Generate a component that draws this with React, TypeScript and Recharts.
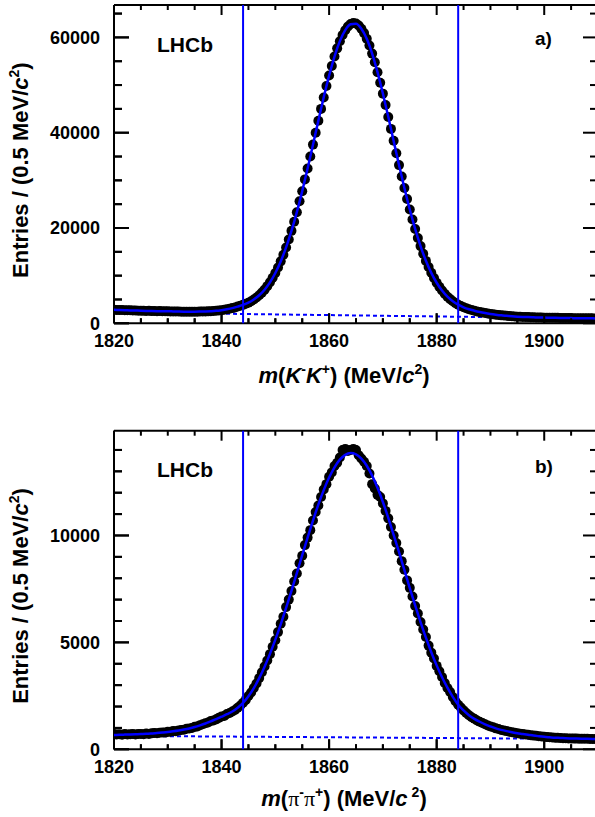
import React from 'react';
import {
    ComposedChart,
    Line,
    XAxis,
    YAxis,
    ReferenceLine,
    Label,
} from 'recharts';

// Two-panel LHCb D0 mass fit: a) K-K+ and b) pi-pi+.
// Black dots = data (0.5 MeV bins), solid blue = total fit,
// dashed blue = background, vertical lines = signal window.

const BLUE = '#0000ff';
const FONT = '"Liberation Sans", Arial, Helvetica, sans-serif';

const MASS_MIN = 1820;
const MASS_MAX = 1910;
const BIN = 0.5;
const massTicks = [
    1820, 1825, 1830, 1835, 1840, 1845, 1850, 1855, 1860, 1865, 1870, 1875,
    1880, 1885, 1890, 1895, 1900, 1905, 1910,
];
const massLabels = [1820, 1840, 1860, 1880, 1900];
const signalWindow = [1844, 1884];

// ---- panel a) K-K+ ----
const kkCounts = [
    2850, 2790, 2770, 2800, 2740, 2720, 2730, 2690, 2680, 2650,
    2660, 2610, 2600, 2620, 2560, 2570, 2540, 2560, 2520, 2530,
    2510, 2500, 2480, 2470, 2460, 2440, 2450, 2420, 2430, 2440,
    2420, 2450, 2460, 2470, 2500, 2510, 2550, 2570, 2620, 2680,
    2760, 2840, 2950, 3050, 3190, 3330, 3510, 3680, 3870, 4090,
    4330, 4640, 5000, 5420, 5890, 6440, 7060, 7800, 8600, 9550,
    10560, 11700, 13000, 14400, 15900, 17600, 19400, 21300, 23300, 25600,
    27700, 30200, 32500, 35000, 37500, 40000, 42500, 45000, 47400, 49800,
    52000, 54000, 56000, 57700, 59200, 60500, 61500, 62300, 62800, 63000,
    62900, 62500, 61800, 60900, 59700, 58300, 56600, 54800, 52700, 50500,
    48200, 45800, 43300, 40800, 38300, 35700, 33200, 30800, 28400, 26100,
    23900, 21800, 19800, 17900, 16200, 14600, 13100, 11800, 10600, 9500,
    8500, 7650, 6870, 6200, 5580, 5080, 4630, 4240, 3900, 3610,
    3360, 3150, 2960, 2790, 2650, 2500, 2380, 2260, 2150, 2050,
    1960, 1880, 1800, 1730, 1670, 1620, 1570, 1510, 1470, 1430,
    1400, 1370, 1340, 1320, 1300, 1280, 1260, 1240, 1220, 1210,
    1190, 1180, 1170, 1160, 1150, 1140, 1130, 1120, 1110, 1100,
    1090, 1085, 1080, 1070, 1060, 1055, 1050, 1040, 1035, 1025,
    1020,
];
// total fit, 1 MeV steps from 1820
const kkFit = [
    2820, 2780, 2745, 2710, 2680, 2640, 2605, 2570, 2550, 2530,
    2525, 2490, 2457, 2433, 2428, 2433, 2457, 2490, 2540, 2616,
    2761, 2947, 3182, 3508, 3863, 4329, 4995, 5880, 7056, 8591,
    10557, 12982, 15918, 19373, 23329, 27744, 32500, 37475, 42531, 47436,
    51982, 55987, 59223, 61528, 62754, 62860, 61815, 59701, 56606, 52712,
    48218, 43343, 38269, 33234, 28390, 23876, 19801, 16207, 13142, 10588,
    8513, 6869, 5584, 4630, 3906, 3361, 2957, 2647, 2378, 2153,
    1964, 1804, 1666, 1566, 1471, 1397, 1342, 1298, 1258, 1224,
    1194, 1170, 1146, 1126, 1107, 1092, 1078, 1063, 1049, 1034, 1020,
];
const kkBackground = [2300, 1000]; // at MASS_MIN, MASS_MAX
const kkYTicks = [
    0, 5000, 10000, 15000, 20000, 25000, 30000, 35000, 40000, 45000, 50000,
    55000, 60000, 65000,
];
const kkYLabels = [0, 20000, 40000, 60000];

// ---- panel b) pi-pi+ ----
const pipiCounts = [
    720, 690, 700, 680, 710, 690, 700, 720, 695, 715,
    720, 705, 735, 720, 745, 760, 750, 775, 790, 780,
    815, 820, 850, 840, 885, 900, 920, 960, 975, 1000,
    1050, 1070, 1130, 1170, 1220, 1250, 1320, 1350, 1400, 1470,
    1530, 1560, 1650, 1700, 1770, 1840, 1940, 2050, 2180, 2310,
    2490, 2660, 2870, 3080, 3330, 3600, 3870, 4150, 4450, 4800,
    5100, 5480, 5870, 6200, 6650, 7000, 7400, 7850, 8220, 8700,
    9050, 9550, 9900, 10250, 10700, 11100, 11400, 11800, 12150, 12400,
    12750, 12950, 13250, 13400, 13650, 14000, 14050, 13950, 14000, 14050,
    14000, 13750, 13600, 13450, 13250, 12900, 12400, 12200, 11900, 11800,
    11500, 11150, 10800, 10400, 10000, 9650, 9250, 8800, 8400, 7900,
    7550, 7150, 6700, 6350, 5950, 5600, 5250, 4850, 4520, 4250,
    3900, 3650, 3380, 3100, 2870, 2680, 2450, 2250, 2080, 1950,
    1820, 1700, 1590, 1500, 1430, 1350, 1290, 1230, 1170, 1110,
    1070, 1030, 980, 950, 905, 880, 850, 820, 800, 770,
    750, 730, 720, 690, 680, 660, 640, 630, 610, 600,
    585, 570, 560, 555, 540, 535, 530, 520, 515, 510,
    505, 500, 500, 495, 495, 490, 490, 485, 485, 480,
    480,
];
const pipiFit = [
    670, 678, 687, 695, 704, 715, 725, 741, 759, 782,
    808, 842, 880, 924, 976, 1041, 1120, 1208, 1310, 1410,
    1524, 1640, 1770, 1945, 2169, 2481, 2863, 3326, 3863, 4464,
    5126, 5843, 6609, 7413, 8242, 9081, 9895, 10693, 11444, 12120,
    12708, 13189, 13547, 13771, 13857, 13797, 13596, 13261, 12800, 12229,
    11566, 10825, 10029, 9217, 8376, 7538, 6727, 5951, 5220, 4542,
    3925, 3373, 2884, 2455, 2088, 1818, 1595, 1425, 1289, 1166,
    1068, 978, 908, 849, 798, 751, 717, 680, 641, 611,
    584, 563, 543, 530, 515, 508, 502, 495, 488, 485, 480,
];
const pipiBackground = [630, 480];
const pipiYTicks = [
    0, 1000, 2000, 3000, 4000, 5000, 6000, 7000, 8000, 9000, 10000, 11000,
    12000, 13000, 14000,
];
const pipiYLabels = [0, 5000, 10000];

const toPoints = (start: number, step: number, values: number[]) =>
    values.map((v, i) => ({ m: start + i * step, v }));

const CHART_W = 600;
const PLOT_LEFT = 114;
const PLOT_RIGHT = 598;
const AXIS_STROKE = { stroke: '#000', strokeWidth: 2 };

// inward tick marks of the ROOT-style frame (majors long, minors short,
// on all four sides), placed with the same linear mapping the axes use;
// drawn as filled rects so they do not depend on stroke props
function FrameTicks(props: {
    plotTop: number;
    plotBottom: number;
    yMax: number;
    yTicks: number[];
    yLabels: number[];
}) {
    const { plotTop, plotBottom, yMax, yTicks, yLabels } = props;
    const xOf = (m: number) =>
        PLOT_LEFT + ((m - MASS_MIN) / (MASS_MAX - MASS_MIN)) * (PLOT_RIGHT - PLOT_LEFT);
    const yOf = (v: number) => plotBottom - (v / yMax) * (plotBottom - plotTop);
    return (
        <g>
            {massTicks.map((m) => {
                const len = massLabels.includes(m) ? 10 : 5;
                const x = xOf(m);
                return (
                    <g key={`x${m}`}>
                        <rect x={x - 1} y={plotBottom - len} width={2} height={len} fill="#000" />
                        <rect x={x - 1} y={plotTop} width={2} height={len} fill="#000" />
                    </g>
                );
            })}
            {yTicks.map((v) => {
                const len = yLabels.includes(v) ? 15 : 8;
                const y = yOf(v);
                return (
                    <g key={`y${v}`}>
                        <rect x={PLOT_LEFT} y={y - 1} width={len} height={2} fill="#000" />
                        <rect x={PLOT_RIGHT - len} y={y - 1} width={len} height={2} fill="#000" />
                    </g>
                );
            })}
        </g>
    );
}

function BottomTick(props: any) {
    const { x, y, payload } = props;
    const major = massLabels.includes(payload.value);
    return (
        <g>
            <path d={`M${x},${y}V${y - (major ? 10 : 5)}`} stroke="#000" strokeWidth={2} fill="none" />
            {major && (
                <text x={x} y={y + 24} textAnchor="middle" fontSize={18} fontWeight="bold" fontFamily={FONT} fill="#000">
                    {payload.value}
                </text>
            )}
        </g>
    );
}

function LeftTick(props: any) {
    const { x, y, payload, labels } = props;
    const major = labels.includes(payload.value);
    return (
        <g>
            <path d={`M${x},${y}H${x + (major ? 15 : 8)}`} stroke="#000" strokeWidth={2} fill="none" />
            {major && (
                <text x={x - 14} y={y} dy="0.36em" textAnchor="end" fontSize={18} fontWeight="bold" fontFamily={FONT} fill="#000">
                    {payload.value}
                </text>
            )}
        </g>
    );
}

function KKTitle() {
    return (
        <>
            <tspan fontStyle="italic">m</tspan>
            <tspan>(</tspan>
            <tspan fontStyle="italic">K</tspan>
            <tspan fontSize={14} dy={-9}>-</tspan>
            <tspan fontStyle="italic" dy={9}>K</tspan>
            <tspan fontSize={14} dy={-9}>+</tspan>
            <tspan dy={9}>) (MeV/</tspan>
            <tspan fontStyle="italic">c</tspan>
            <tspan fontSize={14} dy={-9}>2</tspan>
            <tspan dy={9}>)</tspan>
        </>
    );
}

function PiPiTitle() {
    const pi = { fontFamily: '"Liberation Serif", "Times New Roman", serif', fontWeight: 'normal' as const };
    return (
        <>
            <tspan fontStyle="italic">m</tspan>
            <tspan>(</tspan>
            <tspan {...pi}>π</tspan>
            <tspan fontSize={14} dy={-9}>-</tspan>
            <tspan {...pi} dy={9}>π</tspan>
            <tspan fontSize={14} dy={-9}>+</tspan>
            <tspan dy={9}>) (MeV/</tspan>
            <tspan fontStyle="italic">c</tspan>
            <tspan fontSize={14} dx={4} dy={-9}>2</tspan>
            <tspan dy={9}>)</tspan>
        </>
    );
}

interface PanelProps {
    top: number;
    height: number;
    plotTop: number;
    plotBottom: number;
    counts: number[];
    fit: number[];
    background: number[];
    yMax: number;
    yTicks: number[];
    yLabels: number[];
    title: React.ReactNode;
    titleDy: number;
    tag: string;
    tagY: number;
    lhcbY: number;
}

function Panel(p: PanelProps) {
    const dataPts = toPoints(MASS_MIN, BIN, p.counts);
    const fitPts = toPoints(MASS_MIN, 1, p.fit);
    const bgPts = [
        { m: MASS_MIN, v: p.background[0] },
        { m: MASS_MAX, v: p.background[1] },
    ];
    const xAxisH = p.height - p.plotBottom;
    const plotH = p.plotBottom - p.plotTop;

    return (
        <div style={{ position: 'absolute', left: 0, top: p.top, width: CHART_W, height: p.height }}>
            <ComposedChart
                width={CHART_W}
                height={p.height}
                margin={{ top: p.plotTop - 1, right: 1, bottom: 0, left: 0 }}
            >
                <XAxis
                    xAxisId={0}
                    type="number"
                    dataKey="m"
                    domain={[MASS_MIN, MASS_MAX]}
                    ticks={massTicks}
                    interval={0}
                    allowDataOverflow
                    height={xAxisH}
                    tickSize={0}
                    tickMargin={0}
                    tickLine={false}
                    axisLine={AXIS_STROKE}
                    tick={(t: any) => <BottomTick {...t} />}
                >
                    <Label
                        content={() => (
                            <text
                                x={PLOT_LEFT + 230}
                                y={p.plotBottom + p.titleDy}
                                textAnchor="middle"
                                fontSize={22}
                                fontWeight="bold"
                                fontFamily={FONT}
                                fill="#000"
                            >
                                {p.title}
                            </text>
                        )}
                    />
                </XAxis>
                <XAxis
                    xAxisId="top"
                    orientation="top"
                    type="number"
                    dataKey="m"
                    domain={[MASS_MIN, MASS_MAX]}
                    allowDataOverflow
                    height={1}
                    tick={false}
                    tickLine={false}
                    axisLine={AXIS_STROKE}
                />
                <YAxis
                    yAxisId={0}
                    type="number"
                    dataKey="v"
                    domain={[0, p.yMax]}
                    ticks={p.yTicks}
                    interval={0}
                    allowDataOverflow
                    width={PLOT_LEFT}
                    tickSize={0}
                    tickMargin={0}
                    tickLine={false}
                    axisLine={AXIS_STROKE}
                    tick={(t: any) => <LeftTick {...t} labels={p.yLabels} />}
                >
                    <Label
                        content={() => {
                            const cx = 28;
                            const cy = p.plotTop + plotH / 2 + 6;
                            return (
                                <g>
                                    <text
                                        x={cx}
                                        y={cy}
                                        transform={`rotate(-90, ${cx}, ${cy})`}
                                        textAnchor="middle"
                                        fontSize={22}
                                        fontWeight="bold"
                                        fontFamily={FONT}
                                        fill="#000"
                                    >
                                        <tspan>Entries / (0.5 MeV/</tspan>
                                        <tspan fontStyle="italic">c</tspan>
                                        <tspan fontSize={14} dy={-9}>2</tspan>
                                        <tspan dy={9}>)</tspan>
                                    </text>
                                    <FrameTicks
                                        plotTop={p.plotTop}
                                        plotBottom={p.plotBottom}
                                        yMax={p.yMax}
                                        yTicks={p.yTicks}
                                        yLabels={p.yLabels}
                                    />
                                    <text x={157} y={p.lhcbY} fontSize={21} fontWeight="bold" fontFamily={FONT} fill="#000">
                                        LHCb
                                    </text>
                                    <text x={535} y={p.tagY} fontSize={19} fontWeight="bold" fontFamily={FONT} fill="#000">
                                        {p.tag}
                                    </text>
                                </g>
                            );
                        }}
                    />
                </YAxis>
                <YAxis
                    yAxisId="right"
                    orientation="right"
                    type="number"
                    dataKey="v"
                    domain={[0, p.yMax]}
                    allowDataOverflow
                    width={1}
                    tick={false}
                    tickLine={false}
                    axisLine={AXIS_STROKE}
                />

                {/* invisible series so the mirrored top/right axes are registered */}
                <Line
                    xAxisId="top"
                    yAxisId="right"
                    data={bgPts}
                    dataKey="v"
                    stroke="none"
                    dot={false}
                    activeDot={false}
                    isAnimationActive={false}
                />

                {/* background component */}
                <Line
                    data={bgPts}
                    dataKey="v"
                    type="linear"
                    stroke={BLUE}
                    strokeWidth={2}
                    strokeDasharray="4 3"
                    dot={false}
                    activeDot={false}
                    isAnimationActive={false}
                />

                {/* data points (markers only) */}
                <Line
                    data={dataPts}
                    dataKey="v"
                    stroke="none"
                    activeDot={false}
                    isAnimationActive={false}
                    dot={(d: any) => (
                        <circle key={`pt-${d.index}`} cx={d.cx} cy={d.cy} r={5} fill="#000" stroke="none" />
                    )}
                />

                {/* total fit, lifted above the markers */}
                <Line
                    data={fitPts}
                    dataKey="v"
                    type="monotone"
                    stroke={BLUE}
                    strokeWidth={2.5}
                    dot={false}
                    activeDot={false}
                    isAnimationActive={false}
                    {...({ zIndex: 700 } as any)}
                />

                {/* signal window */}
                {signalWindow.map((m) => (
                    <ReferenceLine key={m} x={m} stroke={BLUE} strokeWidth={2} {...({ zIndex: 750 } as any)} />
                ))}
            </ComposedChart>
        </div>
    );
}

export default function App() {
    return (
        <div
            style={{
                position: 'absolute',
                left: 0,
                top: 0,
                width: 595,
                height: 817,
                overflow: 'hidden',
                background: '#fff',
            }}
        >
            <Panel
                top={0}
                height={400}
                plotTop={5}
                plotBottom={323.3}
                counts={kkCounts}
                fit={kkFit}
                background={kkBackground}
                yMax={66800}
                yTicks={kkYTicks}
                yLabels={kkYLabels}
                title={<KKTitle />}
                titleDy={60}
                tag="a)"
                tagY={45}
                lhcbY={52}
            />
            <Panel
                top={410}
                height={407}
                plotTop={20.7}
                plotBottom={339.3}
                counts={pipiCounts}
                fit={pipiFit}
                background={pipiBackground}
                yMax={14900}
                yTicks={pipiYTicks}
                yLabels={pipiYLabels}
                title={<PiPiTitle />}
                titleDy={57}
                tag="b)"
                tagY={63}
                lhcbY={67}
            />
        </div>
    );
}
